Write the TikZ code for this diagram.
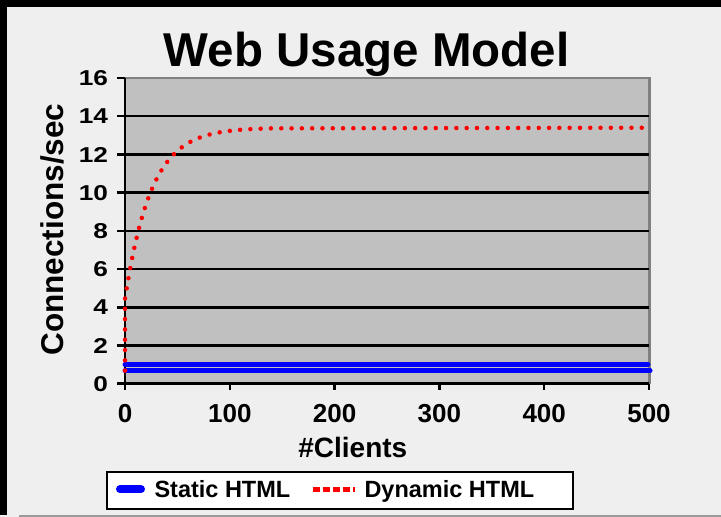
\documentclass[tikz,border=0pt]{standalone}
\usepackage{graphicx}
\usepackage{fontspec}
\setmainfont{Liberation Sans}
\definecolor{bg}{HTML}{EFEFEF}
\definecolor{plotbg}{HTML}{C0C0C0}
\definecolor{framegray}{HTML}{808080}
\definecolor{dynred}{HTML}{FF0000}
\definecolor{statblue}{HTML}{0000FF}
\begin{document}
\begin{tikzpicture}[x=1pt,y=1pt,
  every node/.style={inner sep=0pt, outer sep=0pt},
  titlefont/.style={font=\bfseries\fontsize{47.5}{50}\selectfont},
  axisfont/.style={font=\bfseries\fontsize{31.5}{33}\selectfont},
  xlabfont/.style={font=\bfseries\fontsize{28}{30}\selectfont},
  tickfont/.style={font=\bfseries\fontsize{26}{28}\selectfont},
  ytickfont/.style={font=\bfseries\fontsize{21.5}{23}\selectfont},
  legfont/.style={font=\bfseries\fontsize{23.5}{25}\selectfont},
  grid line/.style={line width=2.5pt, black},
  static line/.style={statblue, line width=5pt, line cap=round},
  dynamic line/.style={dynred, line width=4.5pt, line cap=round, dash pattern=on 0pt off 10.3pt}
]
\useasboundingbox (0,0) rectangle (721,517);
% frame and background
\fill[bg] (0,0) rectangle (721,517);
\fill[black] (0,2) rectangle (7.3,517);
\fill[black] (0,510) rectangle (721,517);
\fill[framegray!80] (19,0) rectangle (721,2);

% plot
\begin{scope}[shift={(125,133)}, x=1.048pt, y=19.125pt]
  \fill[plotbg] (0,0) rectangle (500,16);
  \draw[framegray, line width=2pt] (0,16) -- (501.6,16);
  \draw[framegray, line width=3pt] (500.8,0) -- (500.8,16.05);
  \foreach \v in {2,4,...,14} \draw[grid line] (0,\v) -- (500,\v);
  \foreach \v in {0,2,...,16} {
    \draw[grid line] (-7.6,\v) -- (0,\v);
    \node[ytickfont, anchor=east] (yt\v) at (-16.2,\v) {\scalebox{1.22}[1]{\v}};
  }
  \draw[line width=2.5pt] (0,0) -- (0,16);
  \draw[line width=3pt] (-7.6,0) -- (500,0);
  \foreach \x in {0,100,...,500} {
    \draw[line width=2.5pt] (\x,0) -- (\x,-0.32);
    \node[tickfont, anchor=base] (xt\x) at (\x,-2.013) {\x};
  }
  % data
  \draw[static line] (0,1.02) -- (499,1.02);
  \draw[static line] (0,0.69) -- (501,0.69);
  \draw[dynamic line] (0,0.7) -- (0,4.44)
    -- plot[domain=0:140, samples=141, smooth] (\x,{13.4-8.96*exp(-\x/25)})
    -- (500,13.4);
\end{scope}

% titles
\node[titlefont, anchor=base] (title) at (366.6,450.3) {Web Usage Model};
\node[axisfont, rotate=90, anchor=base] (ylab) at (63.3,287.3) {Connections/sec};
\node[xlabfont, anchor=base] (xlab) at (352.8,59.3) {\#Clients};

% legend
\node[draw, line width=2pt, fill=white, minimum width=466pt, minimum height=36.7pt, anchor=south west] (legend) at (106.7,8) {};
\coordinate (sb1) at (120,27.7);
\coordinate (sb2) at (141,27.7);
\draw[statblue, line width=8pt, line cap=round] (sb1) -- (sb2);
\coordinate (dr1) at (313,27.7);
\coordinate (dr2) at (355,27.7);
\draw[dynred, line width=5pt, dash pattern=on 6.5pt off 3.5pt] (dr1) -- (dr2);
\node[legfont, anchor=base west] (stat) at (154.5,19.7) {Static HTML};
\node[legfont, anchor=base west] (dyn) at (364.5,19.7) {Dynamic HTML};
\end{tikzpicture}
\end{document}
